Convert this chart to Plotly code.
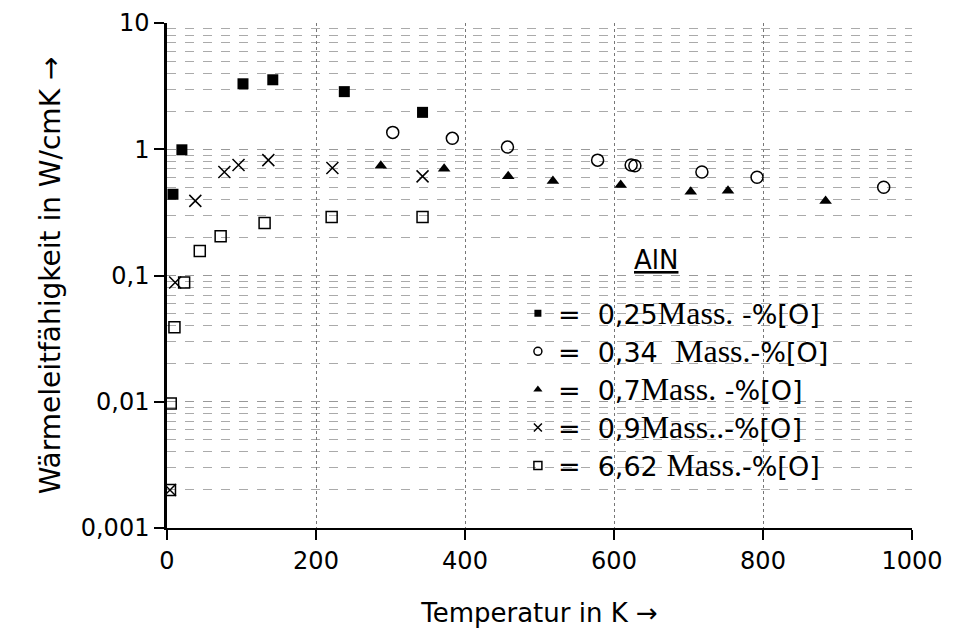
import plotly.graph_objects as go

# Temperature (K) and thermal conductivity (W/cmK)
t_025 = [8, 20, 102, 142, 238, 343]
k_025 = [0.44, 0.99, 3.3, 3.55, 2.86, 1.96]

t_034 = [303, 383, 457, 578, 623, 628, 718, 792, 962]
k_034 = [1.36, 1.22, 1.04, 0.82, 0.75, 0.74, 0.66, 0.60, 0.50]

t_07 = [287, 372, 458, 518, 609, 703, 753, 884]
k_07 = [0.74, 0.70, 0.61, 0.56, 0.52, 0.46, 0.47, 0.39]

t_09 = [4, 11, 38, 77, 96, 136, 222, 343]
k_09 = [0.002, 0.088, 0.39, 0.66, 0.75, 0.82, 0.71, 0.61]

t_662 = [4, 5, 10, 23, 44, 72, 131, 221, 343]
k_662 = [0.002, 0.0097, 0.039, 0.088, 0.156, 0.205, 0.26, 0.29, 0.29]

y_tickvals = [0.001, 0.01, 0.1, 1, 10]
y_ticktext = ["0,001", "0,01", "0,1", "1", "10"]
x_tickvals = [0, 200, 400, 600, 800, 1000]

SERIF = "font-family:'Liberation Serif';font-size:32px"
names = [
    f"=  0,25<span style=\"{SERIF}\">Mass.</span> -%[O]",
    f"=  0,34  <span style=\"{SERIF}\">Mass.</span>-%[O]",
    f"=  0,7<span style=\"{SERIF}\">Mass.</span> -%[O]",
    f"=  0,9<span style=\"{SERIF}\">Mass..</span>-%[O]",
    f"=  6,62 <span style=\"{SERIF}\">Mass.</span>-%[O]",
]

series = [
    (t_025, k_025, dict(symbol="square", color="black"), 11, 7),
    (t_034, k_034, dict(symbol="circle-open", color="black", line=dict(width=1.5, color="black")), 12, 8),
    (t_07, k_07, dict(symbol="triangle-up", color="black"), 11, 8),
    (t_09, k_09, dict(symbol="x-thin", color="black", line=dict(width=1.5, color="black")), 12, 8),
    (t_662, k_662, dict(symbol="square-open", color="black", line=dict(width=1.5, color="black")), 11, 8),
]

fig = go.Figure()
for i, (xs, ys, mk, size, lsize) in enumerate(series):
    fig.add_trace(go.Scatter(x=xs, y=ys, mode="markers", name=names[i], showlegend=False,
                             legendgroup=str(i), marker=dict(size=size, **mk)))
for i, (xs, ys, mk, size, lsize) in enumerate(series):
    # legend-only entry with smaller symbol (as in the original key)
    fig.add_trace(go.Scatter(x=[None], y=[None], mode="markers", name=names[i], showlegend=True,
                             legendgroup=str(i), marker=dict(size=lsize, **mk)))

fig.add_annotation(text="<u>AlN</u>", xref="paper", yref="paper", x=0.657, y=0.531,
                   showarrow=False, font=dict(family="DejaVu Sans", size=26, color="black"))

fig.update_layout(
    width=957, height=630,
    margin=dict(l=167, r=45, t=23, b=102),
    paper_bgcolor="white", plot_bgcolor="white",
    font=dict(family="DejaVu Sans", color="black", size=24),
    showlegend=True,
    legend=dict(x=0.471, y=0.473, xanchor="left", yanchor="top", tracegroupgap=0,
                bgcolor="rgba(255,255,255,0)", font=dict(family="DejaVu Sans", size=27),
                itemsizing="trace"),
    xaxis=dict(
        range=[0, 1000], tickvals=x_tickvals, automargin=False,
        showline=True, linecolor="black", linewidth=2, mirror=False,
        ticks="outside", ticklen=10, tickwidth=1.5, tickcolor="black",
        showgrid=True, gridcolor="#777", griddash="dot", gridwidth=1,
        zeroline=False, tickfont=dict(size=24),
        title=dict(text="Temperatur in K →", font=dict(size=26), standoff=30),
    ),
    yaxis=dict(
        type="log", range=[-3, 1], tickvals=y_tickvals, ticktext=y_ticktext, automargin=False,
        showline=True, linecolor="black", linewidth=2.5,
        ticks="outside", ticklen=10, tickwidth=1.5, tickcolor="black",
        showgrid=True, gridcolor="#999", griddash="dash", gridwidth=1,
        minor=dict(dtick="D1", showgrid=True, gridcolor="#aaa", griddash="dash", ticks=""),
        zeroline=False, tickfont=dict(size=24),
        title=dict(text="Wärmeleitfähigkeit in W/cmK →", font=dict(size=28), standoff=12),
    ),
)

fig.write_html("out.html")
